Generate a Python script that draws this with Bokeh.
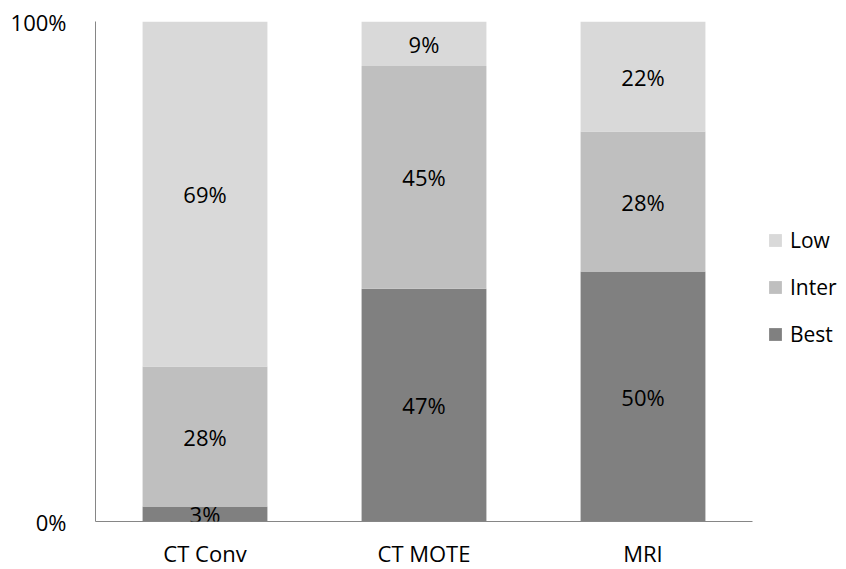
from bokeh.plotting import figure
from bokeh.models import (FactorRange, Range1d, FixedTicker, NumeralTickFormatter,
                          ColumnDataSource, Legend, LegendItem, LabelSet)
from bokeh.core.properties import value
from bokeh.embed import file_html
from bokeh.resources import INLINE

categories = ["CT Conv", "CT MOTE", "MRI"]
best = [3, 47, 50]
inter = [28, 45, 28]
low = [69, 9, 22]
series_names = ["Best", "Inter", "Low"]
colors = ["#808080", "#BFBFBF", "#D9D9D9"]

FONT = "Open Sans"
FS = "22px"

# 100% stacked: normalise each category
totals = [b + i + l for b, i, l in zip(best, inter, low)]
fr_best = [b / t for b, t in zip(best, totals)]
fr_inter = [i / t for i, t in zip(inter, totals)]
fr_low = [l / t for l, t in zip(low, totals)]

src = ColumnDataSource(data=dict(cat=categories, Best=fr_best, Inter=fr_inter, Low=fr_low))

p = figure(x_range=FactorRange(*categories, range_padding=0), y_range=Range1d(0, 1),
           frame_width=657, frame_height=500, output_backend="svg", toolbar_location=None,
           min_border_left=95, min_border_right=90, min_border_top=21, min_border_bottom=40)

renderers = p.vbar_stack(series_names, x="cat", width=0.57, color=colors, source=src,
                         line_color=None)

# labels centred in each segment
lab_x, lab_y, lab_t = [], [], []
for k, c in enumerate(categories):
    base = 0.0
    for vals, raw in ((fr_best, best), (fr_inter, inter), (fr_low, low)):
        lab_x.append(c)
        lab_y.append(base + vals[k] / 2)
        lab_t.append(f"{raw[k]}%")
        base += vals[k]
lsrc = ColumnDataSource(data=dict(x=lab_x, y=lab_y, t=lab_t))
p.add_layout(LabelSet(x="x", y="y", text="t", source=lsrc, text_align="center",
                      text_baseline="middle", text_font=value(FONT), text_font_size=value(FS),
                      text_color="#000000"))

p.xgrid.visible = False
p.ygrid.visible = False
p.outline_line_color = None

p.yaxis.ticker = FixedTicker(ticks=[0, 1])
p.yaxis.formatter = NumeralTickFormatter(format="0%")
for ax in (p.xaxis[0], p.yaxis[0]):
    ax.axis_line_color = "#868686"
    ax.major_tick_line_color = None
    ax.minor_tick_line_color = None
    ax.major_label_text_font = FONT
    ax.major_label_text_font_size = FS
    ax.major_label_text_color = "#000000"
p.yaxis.major_label_standoff = 23
p.xaxis.major_label_standoff = 10

items = [LegendItem(label=n, renderers=[r]) for n, r in zip(series_names, renderers)][::-1]
legend = Legend(items=items, location=(15, 172), orientation="vertical",
                glyph_width=16, glyph_height=16, label_standoff=7, spacing=17,
                label_height=30, padding=0, margin=0, border_line_color=None,
                background_fill_alpha=0,
                label_text_font=FONT, label_text_font_size="21px", label_text_color="#000000")
p.add_layout(legend, "right")

open("out.html", "w").write(file_html(p, INLINE))
